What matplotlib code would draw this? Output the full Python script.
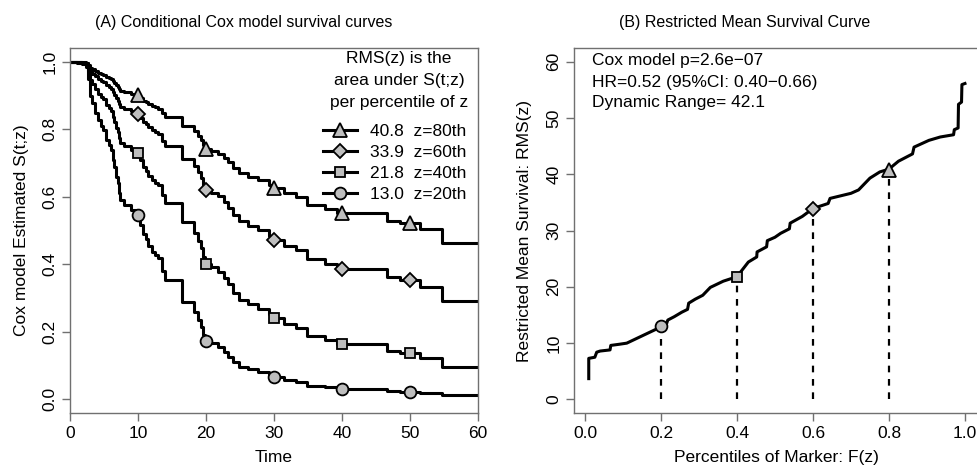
import numpy as np
import matplotlib
matplotlib.use('Agg')
import matplotlib.pyplot as plt
from matplotlib.lines import Line2D

plt.rcParams['font.family'] = ['Liberation Sans', 'DejaVu Sans']

# ---------------- Panel A data: conditional Cox survival curves ----------------
time = [0, 1.0, 1.8, 2.3, 2.6, 3.0, 3.3, 3.7, 4.1, 4.5, 4.8, 5.3, 5.7, 6.0, 6.3, 6.5,
        6.8, 7.0, 7.2, 7.4, 8.0, 9.0, 9.7, 10.3, 10.8, 11.2, 11.5, 12.0, 12.5, 13.0,
        13.5, 14.0, 16.4, 18.3, 18.8, 19.2, 19.6, 19.9, 20.8, 21.8, 22.6, 23.3, 24.0,
        24.8, 26.2, 27.6, 29.2, 29.8, 31.5, 33.3, 34.8, 37.5, 39.2, 46.6, 48.5, 51.5,
        54.7, 60]
surv_z80 = [1, 1.000, 0.999, 0.997, 0.991, 0.982, 0.978, 0.973, 0.968, 0.965, 0.962,
            0.956, 0.953, 0.950, 0.943, 0.938, 0.931, 0.927, 0.919, 0.914, 0.910, 0.906,
            0.901, 0.893, 0.885, 0.881, 0.874, 0.868, 0.865, 0.861, 0.848, 0.837, 0.809,
            0.794, 0.781, 0.769, 0.753, 0.741, 0.735, 0.727, 0.715, 0.702, 0.686, 0.670,
            0.660, 0.649, 0.636, 0.625, 0.611, 0.599, 0.577, 0.564, 0.552, 0.529, 0.521,
            0.503, 0.463, 0.463]
surv_z60 = [1, 0.999, 0.998, 0.996, 0.986, 0.972, 0.965, 0.957, 0.950, 0.944, 0.940,
            0.931, 0.926, 0.921, 0.911, 0.903, 0.893, 0.885, 0.874, 0.866, 0.860, 0.854,
            0.847, 0.834, 0.823, 0.816, 0.806, 0.797, 0.792, 0.787, 0.767, 0.752, 0.712,
            0.691, 0.673, 0.657, 0.635, 0.619, 0.611, 0.601, 0.584, 0.567, 0.547, 0.527,
            0.514, 0.501, 0.485, 0.472, 0.455, 0.441, 0.415, 0.400, 0.387, 0.361, 0.352,
            0.333, 0.291, 0.291]
surv_z40 = [1, 0.999, 0.996, 0.992, 0.974, 0.947, 0.934, 0.919, 0.906, 0.896, 0.889,
            0.872, 0.864, 0.854, 0.836, 0.823, 0.805, 0.792, 0.773, 0.760, 0.750, 0.740,
            0.729, 0.708, 0.689, 0.678, 0.663, 0.649, 0.642, 0.634, 0.604, 0.581, 0.524,
            0.494, 0.470, 0.449, 0.421, 0.401, 0.391, 0.378, 0.359, 0.340, 0.316, 0.295,
            0.282, 0.268, 0.252, 0.239, 0.222, 0.210, 0.187, 0.174, 0.163, 0.143, 0.137,
            0.123, 0.095, 0.095]
surv_z20 = [1, 0.998, 0.993, 0.985, 0.950, 0.900, 0.877, 0.850, 0.828, 0.810, 0.798,
            0.769, 0.755, 0.739, 0.710, 0.689, 0.660, 0.640, 0.610, 0.590, 0.576, 0.562,
            0.545, 0.516, 0.490, 0.475, 0.455, 0.437, 0.427, 0.417, 0.380, 0.353, 0.289,
            0.259, 0.235, 0.215, 0.190, 0.173, 0.165, 0.155, 0.140, 0.126, 0.110, 0.096,
            0.088, 0.080, 0.071, 0.064, 0.056, 0.050, 0.040, 0.035, 0.031, 0.024, 0.022,
            0.018, 0.011, 0.011]
marker_times = [10, 20, 30, 40, 50]
rms_values = [40.8, 33.9, 21.8, 13.0]
pct_labels = ['80th', '60th', '40th', '20th']
legend_title = ["RMS(z) is the", "area under S(t;z)", "per percentile of z"]

# ---------------- Panel B data: restricted mean survival curve ----------------
pct = [0.010, 0.010, 0.026, 0.031, 0.040, 0.066, 0.068, 0.090, 0.110, 0.135, 0.160,
       0.185, 0.200, 0.215, 0.218, 0.235, 0.255, 0.270, 0.273, 0.290, 0.310, 0.330,
       0.364, 0.400, 0.430, 0.452, 0.453, 0.478, 0.480, 0.500, 0.515, 0.538, 0.540,
       0.572, 0.600, 0.640, 0.645, 0.700, 0.720, 0.750, 0.776, 0.800, 0.825, 0.862,
       0.866, 0.905, 0.935, 0.970, 0.972, 0.982, 0.983, 0.991, 0.992, 1.000]
rms_curve = [3.7, 7.3, 7.5, 8.4, 8.6, 8.8, 9.6, 9.8, 10.0, 10.8, 11.6,
             12.4, 13.0, 13.5, 14.1, 14.7, 15.5, 16.0, 17.1, 17.8, 18.5, 19.9,
             21.0, 21.8, 24.4, 25.3, 26.2, 27.1, 28.2, 28.8, 29.5, 30.3, 31.3,
             32.5, 33.9, 34.8, 35.7, 36.6, 37.2, 39.3, 40.4, 40.9, 42.3, 43.6,
             44.8, 46.0, 46.6, 47.0, 47.9, 48.2, 52.4, 52.8, 55.9, 56.1]
marker_pct = [0.8, 0.6, 0.4, 0.2]
annot_lines = ["Cox model p=2.6e\u221207",
               "HR=0.52 (95%CI: 0.40\u22120.66)",
               "Dynamic Range= 42.1"]

# ---------------- styling ----------------
markers = ['^', 'D', 's', 'o']
msizes = [10.0, 7.5, 7.5, 8.5]
face = '#bebebe'
axcol = '#707070'
lw = 2.2
fs = 12.5

W, H = 978, 468
fig = plt.figure(figsize=(W / 100, H / 100), dpi=100)

def px_axes(x0, y0, x1, y1):
    return fig.add_axes([x0 / W, 1 - y1 / H, (x1 - x0) / W, (y1 - y0) / H])

def style(ax):
    for s in ax.spines.values():
        s.set_color(axcol)
        s.set_linewidth(1.0)
    ax.tick_params(axis='both', which='both', direction='out', length=6,
                   width=1.0, color=axcol, labelsize=fs, labelcolor='black')
    ax.tick_params(axis='x', pad=3)
    ax.tick_params(axis='y', pad=3, labelrotation=90)
    for lab in ax.get_yticklabels():
        lab.set_va('center')

# ---------------- Panel A ----------------
ax0, ay0, ax1, ay1 = 70, 48, 478, 413
axA = px_axes(ax0, ay0, ax1, ay1)
curves = [surv_z80, surv_z60, surv_z40, surv_z20]
t_arr = np.array(time)
handles = []
for vals, mk, ms in zip(curves, markers, msizes):
    v = np.array(vals)
    axA.step(t_arr, v, where='post', color='black', lw=lw)
    idx = np.searchsorted(t_arr, marker_times, side='right') - 1
    axA.plot(marker_times, v[idx], linestyle='none', marker=mk, ms=ms,
             mfc=face, mec='black', mew=1.3, zorder=5)
    handles.append(Line2D([], [], color='black', lw=lw, marker=mk, ms=ms,
                          mfc=face, mec='black', mew=1.3))
labels = [f"{rv:.1f}  z={pl}" for rv, pl in zip(rms_values, pct_labels)]
axA.set_xlim(0, 60)
axA.set_ylim(-0.0415, 1.0415)
axA.set_xticks(np.arange(0, 61, 10))
axA.set_yticks(np.arange(0, 1.01, 0.2))
axA.set_yticklabels([f"{v:.1f}" for v in np.arange(0, 1.01, 0.2)])
style(axA)
axA.set_xlabel('Time', fontsize=fs, labelpad=7)
axA.set_ylabel('Cox model Estimated S(t;z)', fontsize=fs, labelpad=10)

def fx(px):
    return (px - ax0) / (ax1 - ax0)

def fy(py):
    return (ay1 - py) / (ay1 - ay0)

for line, py in zip(legend_title, [59, 81, 103]):
    axA.text(fx(399), fy(py), line, transform=axA.transAxes, ha='center',
             va='center', fontsize=fs)
leg = axA.legend(handles, labels, loc='upper left',
                 bbox_to_anchor=(fx(323), fy(124)), frameon=False, fontsize=fs,
                 handlelength=1.95, handletextpad=0.75, labelspacing=0.33,
                 borderaxespad=0.0, borderpad=0.0)

# ---------------- Panel B ----------------
bx0, bx1 = 573.7, 980
axB = px_axes(bx0, 48, bx1, 413)
axB.plot(pct, rms_curve, color='black', lw=lw)
for mp, rv, mk, ms in zip(marker_pct, rms_values, markers, msizes):
    axB.plot([mp, mp], [0, rv], color='black', lw=1.6, linestyle=(0, (3, 3)))
    axB.plot([mp], [rv], linestyle='none', marker=mk, ms=ms, mfc=face,
             mec='black', mew=1.3, zorder=5)
axB.set_xlim(-0.0296, 1.0396)
axB.set_ylim(-2.4, 62.4)
axB.set_xticks(np.arange(0, 1.01, 0.2))
axB.set_xticklabels([f"{v:.1f}" for v in np.arange(0, 1.01, 0.2)])
axB.set_yticks(np.arange(0, 61, 10))
style(axB)
axB.set_xlabel('Percentiles of Marker: F(z)', fontsize=fs, labelpad=7)
axB.set_ylabel('Restricted Mean Survival: RMS(z)', fontsize=fs, labelpad=10)
for line, py in zip(annot_lines, [61, 82, 102]):
    axB.text((591.7 - bx0) / (bx1 - bx0), fy(py), line, transform=axB.transAxes,
             ha='left', va='center', fontsize=fs)

# titles
fig.text(244 / W, 1 - 22 / H, '(A) Conditional Cox model survival curves',
         ha='center', va='center', fontsize=11.5)
fig.text(745 / W, 1 - 22 / H, '(B) Restricted Mean Survival Curve',
         ha='center', va='center', fontsize=11.5)

fig.savefig('out.png', dpi=100)
